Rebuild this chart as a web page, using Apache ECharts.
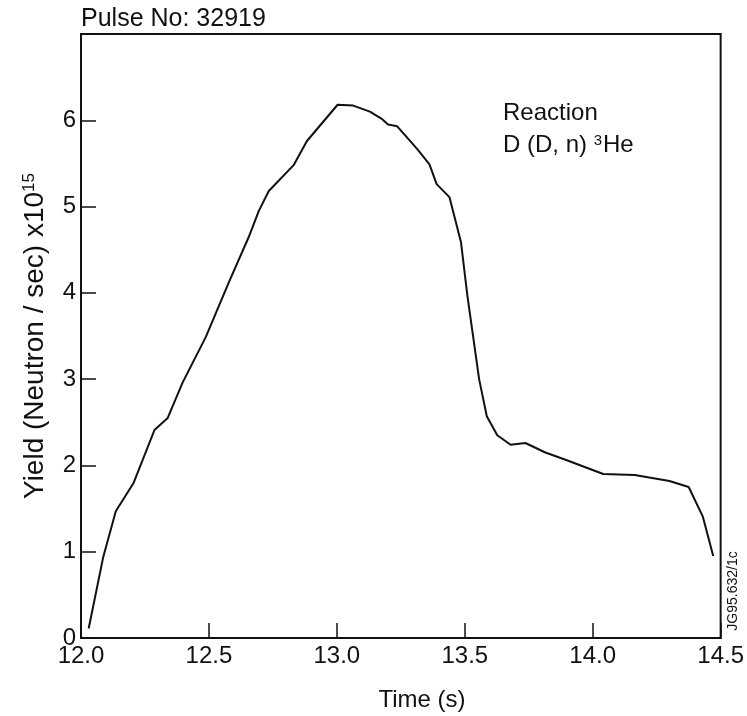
<!DOCTYPE html>
<html>
<head>
<meta charset="utf-8">
<script src="https://cdn.jsdelivr.net/npm/echarts@6/dist/echarts.min.js"></script>
<style>
  html, body { margin: 0; padding: 0; background: #fff; }
  #chart { width: 747px; height: 716px; }
</style>
</head>
<body>
<div id="chart"></div>
<script>
// Data
var times  = [12.03, 12.087, 12.136, 12.206, 12.287, 12.339, 12.397, 12.488, 12.579, 12.656, 12.695, 12.734, 12.831, 12.883, 13.003, 13.064, 13.129, 13.174, 13.2, 13.236, 13.316, 13.362, 13.39, 13.44, 13.485, 13.51, 13.556, 13.586, 13.627, 13.679, 13.737, 13.815, 13.899, 14.041, 14.164, 14.30, 14.375, 14.43, 14.471];
var yields = [0.11, 0.94, 1.47, 1.80, 2.41, 2.55, 2.96, 3.49, 4.13, 4.65, 4.95, 5.18, 5.48, 5.76, 6.18, 6.17, 6.10, 6.02, 5.95, 5.93, 5.66, 5.49, 5.26, 5.11, 4.59, 3.97, 3.0, 2.57, 2.35, 2.24, 2.26, 2.15, 2.06, 1.90, 1.89, 1.82, 1.75, 1.41, 0.95];
var xTicks = ['12.0', '12.5', '13.0', '13.5', '14.0', '14.5'];
var yTicks = ['0', '1', '2', '3', '4', '5', '6'];

var pairs = times.map(function (t, i) { return [t, yields[i]]; });
var FONT = 'Liberation Sans, Arial, Helvetica, sans-serif';
var INK = '#111';

var chart = echarts.init(document.getElementById('chart'), null, { renderer: 'canvas' });
chart.setOption({
  animation: false,
  backgroundColor: '#fff',
  grid: { left: 81, right: 23, top: 34, bottom: 78, show: true, borderColor: INK, borderWidth: 2, backgroundColor: 'transparent' },
  xAxis: {
    type: 'value', min: 12, max: 14.5, interval: 0.5,
    axisLine: { show: true, lineStyle: { color: INK, width: 2 } },
    axisTick: { show: true, inside: true, length: 15, lineStyle: { color: INK, width: 1.5 } },
    splitLine: { show: false },
    axisLabel: {
      margin: 6, color: INK, fontFamily: FONT, fontSize: 24,
      formatter: function (v) { var s = v.toFixed(1); return xTicks.indexOf(s) >= 0 ? s : ''; }
    }
  },
  yAxis: {
    type: 'value', min: 0, max: 7, interval: 1,
    axisLine: { show: true, lineStyle: { color: INK, width: 2 } },
    axisTick: { show: true, inside: true, length: 15, lineStyle: { color: INK, width: 1.5 } },
    splitLine: { show: false },
    axisLabel: {
      margin: 5, color: INK, fontFamily: FONT, fontSize: 24,
      formatter: function (v) { var s = String(v); return yTicks.indexOf(s) >= 0 ? s : ''; }
    }
  },
  graphic: [
    { type: 'text', left: 81, top: 7, style: { text: 'Pulse No: 32919', fill: INK, font: '25px ' + FONT } },
    { type: 'text', x: 503, y: 113, style: { text: 'Reaction', fill: INK, font: '24px ' + FONT, textVerticalAlign: 'middle' } },
    { type: 'text', x: 503, y: 145, style: {
        text: 'D (D, n) {sup|3}He', fill: INK, font: '24px ' + FONT, textVerticalAlign: 'middle',
        rich: { sup: { fontSize: 15, fontFamily: FONT, fill: INK, verticalAlign: 'top', padding: [0, 1, 0, 0] } }
      } },
    { type: 'text', x: 422, y: 700, style: { text: 'Time (s)', fill: INK, font: '24px ' + FONT, textAlign: 'center', textVerticalAlign: 'middle' } },
    { type: 'text', x: 35, y: 336, rotation: Math.PI / 2, style: {
        text: 'Yield (Neutron / sec) x10{sup|15}', fill: INK, font: '28px ' + FONT, textAlign: 'center', textVerticalAlign: 'middle',
        rich: { sup: { fontSize: 17, fontFamily: FONT, fill: INK, verticalAlign: 'top' } }
      } },
    { type: 'text', x: 733, y: 591, rotation: Math.PI / 2, style: { text: 'JG95.632/1c', fill: INK, font: '14px ' + FONT, textAlign: 'center', textVerticalAlign: 'middle' } }
  ],
  series: [{
    type: 'line', data: pairs, showSymbol: false, smooth: false,
    lineStyle: { color: INK, width: 2 }, itemStyle: { color: INK }
  }]
});
</script>
</body>
</html>
